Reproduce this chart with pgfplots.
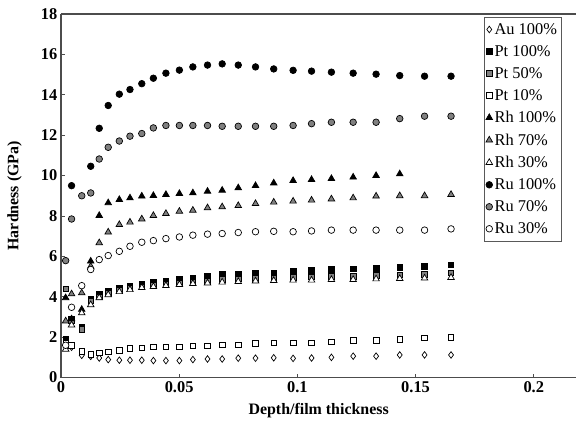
\documentclass[border=0pt]{standalone}
\usepackage{pgfplots}
\usepackage{pgfplotstable}
\usepackage{fontspec}
\setmainfont{Liberation Serif}
\pgfplotsset{compat=1.18}
\pgfplotstableread{
x      Au    Pt100 Pt50 Pt10 Rh100 Rh70 Rh30 Ru100 Ru70  Ru30
0.0020 1.70  1.90  4.40 1.70 3.95  2.80 1.40 nan   5.79  1.60
0.0045 1.50  2.90  2.80 1.60 2.90  4.14 2.60 9.50  7.85  3.48
0.0088 1.10  2.50  2.40 1.30 3.37  4.19 3.20 nan   9.00  4.55
0.0126 1.05  3.90  3.80 1.14 5.76  5.50 3.60 10.46 9.14  5.35
0.0162 0.97  4.11  4.00 1.22 8.02  6.67 3.95 12.34 10.82 5.84
0.0200 0.89  4.30  4.20 1.28 8.65  7.20 4.10 13.47 11.40 6.04
0.0247 0.86  4.45  4.35 1.34 8.81  7.57 4.25 14.03 11.71 6.25
0.0292 0.86  4.55  4.45 1.44 8.89  7.69 4.35 14.26 11.95 6.50
0.0342 0.86  4.65  4.50 1.47 8.98  7.85 4.45 14.55 12.08 6.70
0.0391 0.84  4.72  4.58 1.52 9.01  8.02 4.50 14.82 12.36 6.78
0.0444 0.84  4.78  4.62 1.52 9.06  8.12 4.55 15.07 12.48 6.88
0.0501 0.84  4.85  4.68 1.52 9.11  8.23 4.60 15.22 12.48 6.96
0.0558 0.89  4.92  4.72 1.57 9.14  8.28 4.65 15.38 12.48 7.05
0.0620 0.92  5.00  4.78 1.57 9.22  8.40 4.68 15.47 12.48 7.10
0.0682 0.92  5.10  4.85 1.63 9.27  8.45 4.72 15.53 12.44 7.13
0.0750 0.96  5.12  4.88 1.63 9.39  8.51 4.75 15.47 12.44 7.18
0.0823 0.96  5.15  4.90 1.70 9.50  8.61 4.78 15.38 12.44 7.22
0.0900 0.98  5.18  4.92 1.72 9.63  8.68 4.80 15.28 12.44 7.24
0.0982 0.95  5.25  4.95 1.72 9.75  8.73 4.82 15.21 12.48 7.22
0.1060 0.97  5.30  4.98 1.72 9.80  8.78 4.82 15.17 12.57 7.26
0.1144 1.00  5.35  5.00 1.76 9.85  8.84 4.85 15.12 12.64 7.30
0.1236 1.06  5.38  5.02 1.83 9.92  8.89 4.85 15.07 12.64 7.30
0.1333 1.06  5.40  5.05 1.83 10.00 8.98 4.88 15.02 12.64 7.30
0.1433 1.12  5.45  5.08 1.88 10.08 9.00 4.90 14.95 12.82 7.30
0.1538 1.12  5.52  5.12 1.96 nan   9.00 4.92 14.92 12.94 7.30
0.1650 1.12  5.58  5.18 2.00 nan   9.06 4.95 14.92 12.94 7.36
}\data
\begin{document}
\begin{tikzpicture}
\begin{axis}[
  scale only axis,
  width=516bp, height=364bp,
  xmin=0, xmax=0.218, ymin=0, ymax=18,
  axis lines=left,
  axis line style={-, gray!60!black, line width=1.3pt},
  xtick={0,0.05,0.1,0.15,0.2},
  xticklabels={0,0.05,0.1,0.15,0.2},
  ytick={0,2,...,18},
  tick align=inside,
  major tick length=4bp,
  tick style={gray!60!black, line width=0.8pt},
  /pgf/number format/assume math mode=true,
  ticklabel style={font=\fontsize{16.5}{18}\selectfont\bfseries},
  xlabel={Depth/film thickness},
  ylabel={Hardness (GPa)},
  label style={font=\fontsize{16}{18}\selectfont\bfseries},
  xlabel style={at={(axis description cs:0.5,-0.09)}, anchor=center},
  ylabel style={at={(axis description cs:-0.09,0.5)}, anchor=center},
  clip=false,
  legend style={at={(rel axis cs:0.82,0.992)}, anchor=north west,
    draw=gray!70!black, line width=0.8pt,
    font=\fontsize{16.5}{18}\selectfont,
    row sep=5.6bp, inner xsep=2pt, inner ysep=4pt,
    legend cell align=left},
  legend image post style={only marks},
  every axis plot/.append style={only marks, mark size=3bp, line width=0.7pt},
]
\draw[gray!60!black, line width=1.3pt] (rel axis cs:0,1) -- (rel axis cs:1,1);
\addplot[mark=diamond*, mark size=3.3bp, fill=white, draw=black] table[x=x,y=Au]{\data};
\addlegendentry{Au 100\%}
\addplot[mark=square*, mark size=2.8bp, fill=black, draw=black] table[x=x,y=Pt100]{\data};
\addlegendentry{Pt 100\%}
\addplot[mark=square*, mark size=2.8bp, fill=gray, draw=black] table[x=x,y=Pt50]{\data};
\addlegendentry{Pt 50\%}
\addplot[mark=square*, mark size=2.8bp, fill=white, draw=black] table[x=x,y=Pt10]{\data};
\addlegendentry{Pt 10\%}
\addplot[mark=triangle*, mark size=3.8bp, fill=black, draw=black] table[x=x,y=Rh100]{\data};
\addlegendentry{Rh 100\%}
\addplot[mark=triangle*, mark size=3.8bp, fill=gray, draw=black] table[x=x,y=Rh70]{\data};
\addlegendentry{Rh 70\%}
\addplot[mark=triangle*, mark size=3.8bp, fill=white, draw=black] table[x=x,y=Rh30]{\data};
\addlegendentry{Rh 30\%}
\addplot[mark=*, mark size=3.3bp, fill=black, draw=black] table[x=x,y=Ru100]{\data};
\addlegendentry{Ru 100\%}
\addplot[mark=*, mark size=3.3bp, fill=gray, draw=black] table[x=x,y=Ru70]{\data};
\addlegendentry{Ru 70\%}
\addplot[mark=*, mark size=3.3bp, fill=white, draw=black] table[x=x,y=Ru30]{\data};
\addlegendentry{Ru 30\%}
\end{axis}
\path ([xshift=-61bp,yshift=-52bp]current axis.south west) rectangle ([yshift=14bp]current axis.north east);
\end{tikzpicture}
\end{document}
